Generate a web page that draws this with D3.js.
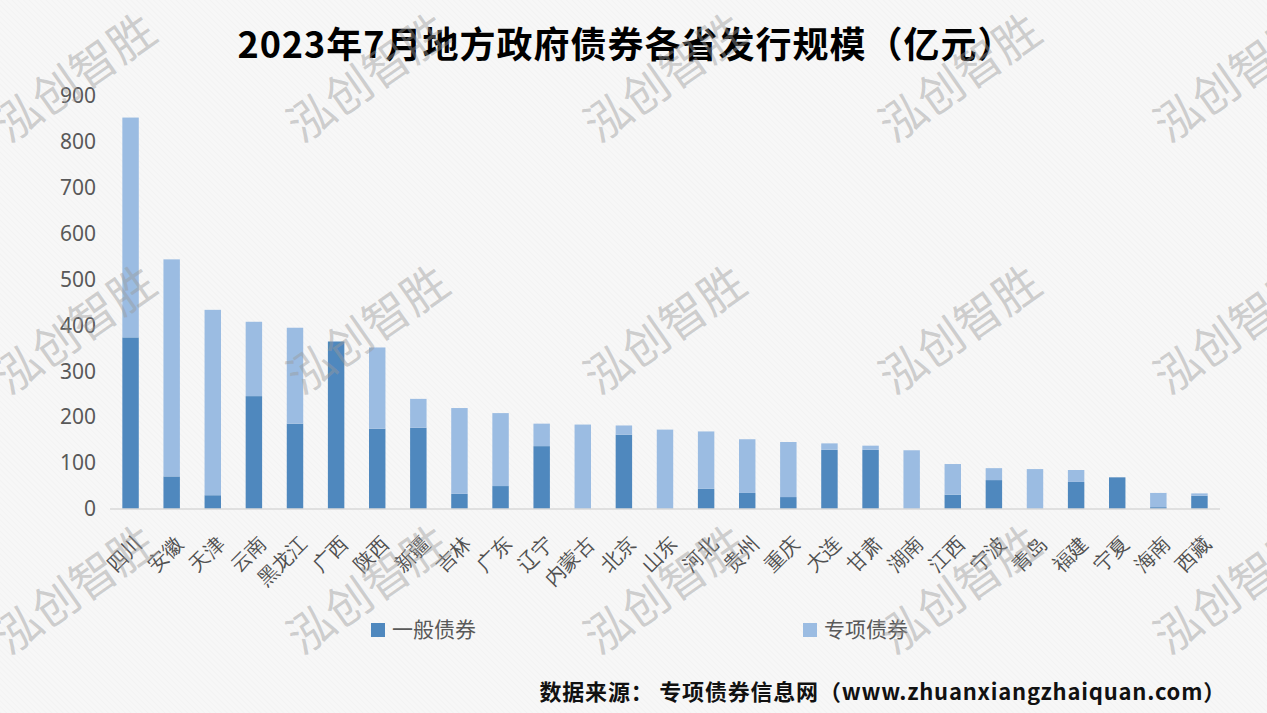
<!DOCTYPE html>
<html>
<head>
<meta charset="utf-8">
<script src="https://cdn.jsdelivr.net/npm/d3@7"></script>
<style>
  html, body { margin: 0; padding: 0; background: #f6f6f6; }
  svg { display: block; font-family: "Noto Sans CJK SC", "Noto Sans", sans-serif; }
</style>
</head>
<body>
<svg id="chart" width="1267" height="713"></svg>
<script>
// Data (亿元)
//
var provinces = ["四川", "安徽", "天津", "云南", "黑龙江", "广西", "陕西", "新疆", "吉林", "广东",
  "辽宁", "内蒙古", "北京", "山东", "河北", "贵州", "重庆", "大连", "甘肃", "湖南",
  "江西", "宁波", "青岛", "福建", "宁夏", "海南", "西藏"];
var general_bonds = [374, 71, 30, 246, 186, 365, 175, 177, 33, 50,
  137, 0, 162, 0, 44, 35, 26, 129, 129, 0,
  31, 63, 0, 59, 69, 4, 29];
var special_bonds = [479, 473, 404, 162, 209, 0, 177, 63, 187, 159,
  49, 184, 20, 173, 125, 117, 120, 14, 9, 128,
  67, 26, 87, 26, 0, 31, 5];
var y_ticks = [0, 100, 200, 300, 400, 500, 600, 700, 800, 900];
var series_names = ["一般债券", "专项债券"];
var series_colors = ["#4f88be", "#9bbce2"];

// Helpers
//

function build_rows() {
  // returns [{name, general, special}]
  return provinces.map(function(p, i) {
    return { name: p, general: general_bonds[i], special: special_bonds[i] };
  });
}

var width = 1267, height = 713;
var svg = d3.select("#chart");

// background hatching like the source image
var defs = svg.append("defs");
var pat = defs.append("pattern")
  .attr("id", "hatch").attr("width", 4).attr("height", 4)
  .attr("patternUnits", "userSpaceOnUse")
  .attr("patternTransform", "rotate(-45)");
pat.append("rect").attr("width", 4).attr("height", 4).attr("fill", "#f7f7f7");
pat.append("line").attr("x1", 0).attr("y1", 0).attr("x2", 0).attr("y2", 4)
  .attr("stroke", "#efefef").attr("stroke-width", 1);
svg.append("rect").attr("width", width).attr("height", height).attr("fill", "url(#hatch)");

// scales
var rows = build_rows();
var x_scale = d3.scaleBand()
  .domain(provinces)
  .range([110, 1220])
  .paddingInner(0.6)
  .paddingOuter(0.3);

var y_scale = d3.scaleLinear()
  .domain([0, 900])
  .range([509, 96]);

var stack = d3.stack().keys(["general", "special"]);
var layers = stack(rows);

// watermark grid
var wm_cols = [75, 368, 665, 960, 1235];
var wm_rows = [78, 330, 590];
var wm = [];
wm_rows.forEach(function(r) { wm_cols.forEach(function(c) { wm.push([c, r]); }); });

// bars
svg.append("g")
  .selectAll("g")
  .data(layers)
  .enter()
  .append("g")
    .attr("fill", function(d, i) { return series_colors[i]; })
  .selectAll("rect")
  .data(function(d) { return d; })
  .enter()
  .append("rect")
    .attr("x", function(d) { return x_scale(d.data.name); })
    .attr("width", x_scale.bandwidth())
    .attr("y", function(d) { return y_scale(d[1]); })
    .attr("height", function(d) { return y_scale(d[0]) - y_scale(d[1]); });

// y axis (labels only)
var y_axis = d3.axisLeft(y_scale).tickValues(y_ticks).tickSize(0).tickPadding(0);
var yg = svg.append("g")
  .attr("transform", "translate(96,0)")
  .call(y_axis);
yg.select(".domain").remove();
yg.selectAll("text")
  .attr("fill", "#595959")
  .style("font-size", "21px")
  .style("font-family", "'Noto Sans', 'DejaVu Sans', sans-serif");

// x axis line + rotated labels
var x_axis = d3.axisBottom(x_scale).tickSize(0).tickPadding(0);
var xg = svg.append("g")
  .attr("transform", "translate(0,509)")
  .call(x_axis);
xg.select(".domain")
  .attr("stroke", "#d9d9d9").attr("stroke-width", 1.5)
  .attr("d", "M110,0H1220");
xg.selectAll(".tick text")
  .attr("fill", "#505050")
  .style("font-size", "20px")
  .style("text-anchor", "end")
  .attr("dy", "0.35em")
  .attr("transform", "translate(8,31) rotate(-45)");

// legend
var legend_x = [371, 803];
var legend = svg.append("g").selectAll("g")
  .data(series_names)
  .enter()
  .append("g")
    .attr("transform", function(d, i) { return "translate(" + legend_x[i] + ",623)"; });
legend.append("rect")
  .attr("width", 14).attr("height", 14)
  .attr("fill", function(d, i) { return series_colors[i]; });
legend.append("text")
  .attr("x", 21).attr("y", 7).attr("dy", "0.35em")
  .attr("fill", "#595959")
  .style("font-size", "21px")
  .text(function(d) { return d; });

// title
svg.append("text")
  .attr("x", 626).attr("y", 45).attr("dy", "0.35em")
  .attr("text-anchor", "middle")
  .attr("fill", "#000")
  .style("font-size", "36px")
  .style("letter-spacing", "1px")
  .style("font-weight", "bold")
  .text("2023年7月地方政府债券各省发行规模（亿元）");

// source note
svg.append("text")
  .attr("x", 1226).attr("y", 692).attr("dy", "0.35em")
  .attr("text-anchor", "end")
  .attr("fill", "#111")
  .style("font-size", "22px")
  .style("letter-spacing", "0.8px")
  .style("font-weight", "bold")
  .text("数据来源： 专项债券信息网（www.zhuanxiangzhaiquan.com）");

// watermark layer on top, semi transparent like the source
svg.append("g").selectAll("text")
  .data(wm)
  .enter()
  .append("text")
    .attr("transform", function(d) { return "translate(" + d[0] + "," + d[1] + ") rotate(-35)"; })
    .attr("text-anchor", "middle")
    .attr("dy", "0.35em")
    .attr("fill", "#9a9a9a")
    .attr("fill-opacity", 0.45)
    .style("font-size", "46px")
    .text("泓创智胜");
</script>
</body>
</html>
